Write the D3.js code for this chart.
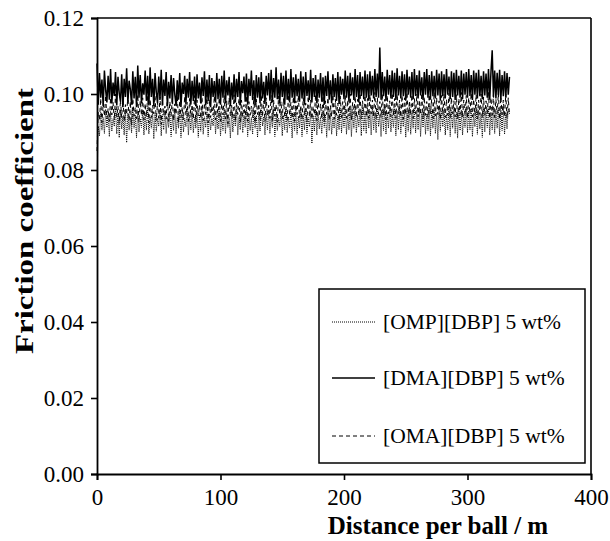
<!DOCTYPE html>
<html><head><meta charset="utf-8">
<script src="https://cdnjs.cloudflare.com/ajax/libs/d3/7.8.5/d3.min.js"></script>
<style>
html,body{margin:0;padding:0;background:#fff;}
svg{display:block;}
text{font-family:"Liberation Serif","Times New Roman",serif;fill:#000;}
.tick text{font-size:23px !important;font-family:"Liberation Serif",serif !important;}
</style></head>
<body>
<svg id="chart" width="610" height="541"></svg>
<script>
const xTicks = [0, 100, 200, 300, 400];
const yTicks = [0.00, 0.02, 0.04, 0.06, 0.08, 0.10, 0.12];
const seriesNames = ["[OMP][DBP] 5 wt%", "[DMA][DBP] 5 wt%", "[OMA][DBP] 5 wt%"];

// friction coefficient sampled every 1 m of distance per ball (0 ... 334 m)
const ompDbp = [
0.0775,0.0915,0.0890,0.0952,0.0905,0.0938,0.0896,0.0960,0.0912,0.0945,0.0888,0.0955,0.0902,0.0935,0.0915,0.0962,0.0895,0.0948,0.0885,0.0958,
0.0908,0.0942,0.0892,0.0960,0.0872,0.0950,0.0905,0.0938,0.0898,0.0965,0.0910,0.0945,0.0885,0.0955,0.0900,0.0935,0.0912,0.0958,0.0892,0.0948,
0.0905,0.0962,0.0895,0.0940,0.0910,0.0955,0.0882,0.0948,0.0902,0.0936,0.0915,0.0960,0.0890,0.0946,0.0906,0.0958,0.0896,0.0938,0.0912,0.0952,
0.0888,0.0945,0.0904,0.0962,0.0895,0.0940,0.0910,0.0956,0.0885,0.0948,0.0900,0.0936,0.0914,0.0960,0.0892,0.0944,0.0906,0.0955,0.0898,0.0938,
0.0910,0.0958,0.0886,0.0946,0.0902,0.0962,0.0894,0.0940,0.0912,0.0954,0.0888,0.0948,0.0905,0.0936,0.0916,0.0960,0.0895,0.0944,0.0908,0.0956,
0.0890,0.0942,0.0904,0.0962,0.0896,0.0950,0.0912,0.0938,0.0884,0.0956,0.0900,0.0946,0.0915,0.0960,0.0892,0.0940,0.0906,0.0954,0.0898,0.0944,
0.0912,0.0962,0.0888,0.0948,0.0904,0.0938,0.0894,0.0958,0.0910,0.0944,0.0886,0.0955,0.0902,0.0962,0.0916,0.0940,0.0892,0.0950,0.0906,0.0958,
0.0896,0.0942,0.0912,0.0960,0.0888,0.0948,0.0904,0.0936,0.0915,0.0956,0.0890,0.0944,0.0906,0.0962,0.0898,0.0940,0.0912,0.0954,0.0884,0.0948,
0.0904,0.0960,0.0894,0.0942,0.0910,0.0956,0.0888,0.0946,0.0906,0.0962,0.0896,0.0938,0.0914,0.0955,0.0870,0.0944,0.0902,0.0960,0.0892,0.0948,
0.0908,0.0940,0.0896,0.0958,0.0912,0.0946,0.0886,0.0962,0.0904,0.0950,0.0894,0.0938,0.0910,0.0956,0.0890,0.0944,0.0906,0.0962,0.0898,0.0952,
0.0912,0.0964,0.0894,0.0946,0.0906,0.0960,0.0888,0.0952,0.0910,0.0966,0.0898,0.0944,0.0914,0.0958,0.0890,0.0962,0.0904,0.0948,0.0896,0.0964,
0.0910,0.0956,0.0892,0.0966,0.0906,0.0950,0.0898,0.0962,0.0914,0.0946,0.0888,0.0960,0.0904,0.0968,0.0894,0.0952,0.0910,0.0964,0.0900,0.0948,
0.0912,0.0962,0.0890,0.0954,0.0906,0.0966,0.0896,0.0948,0.0914,0.0960,0.0886,0.0956,0.0902,0.0966,0.0894,0.0950,0.0910,0.0962,0.0898,0.0958,
0.0906,0.0966,0.0888,0.0952,0.0912,0.0960,0.0894,0.0948,0.0904,0.0968,0.0890,0.0956,0.0910,0.0962,0.0896,0.0950,0.0880,0.0964,0.0902,0.0954,
0.0914,0.0960,0.0892,0.0948,0.0906,0.0966,0.0888,0.0956,0.0910,0.0962,0.0896,0.0952,0.0884,0.0964,0.0904,0.0958,0.0892,0.0946,0.0912,0.0966,
0.0898,0.0956,0.0906,0.0962,0.0888,0.0950,0.0914,0.0966,0.0894,0.0958,0.0908,0.0948,0.0886,0.0964,0.0900,0.0956,0.0912,0.0962,0.0892,0.0952,
0.0906,0.0966,0.0896,0.0954,0.0910,0.0962,0.0890,0.0958,0.0904,0.0966,0.0894,0.0952,0.0908,0.0960,0.0948];

const dmaDbp = [
0.1080,0.0972,0.1055,0.0990,0.1038,0.0968,0.1062,0.1010,0.0978,0.1048,0.0985,0.1066,0.0975,0.1030,0.0995,0.1058,0.0970,0.1045,0.1002,0.0980,
0.1052,0.0966,0.1040,0.0992,0.1068,0.0978,0.1035,0.1012,0.0972,0.1060,0.0988,0.1045,0.0965,0.1075,0.0990,0.1050,0.0975,0.1028,0.0998,0.1062,
0.0982,0.1048,0.0970,0.1070,0.0992,0.1040,0.0968,0.1055,0.1005,0.0976,0.1046,0.0985,0.1064,0.0972,0.1038,0.0995,0.1058,0.0968,0.1032,0.0988,
0.1050,0.0975,0.1042,0.0998,0.0970,0.1036,0.0985,0.1055,0.0966,0.1030,0.1000,0.1048,0.0974,0.1040,0.0990,0.1058,0.0972,0.1035,0.0982,0.1046,
0.0968,0.1052,0.0988,0.1030,0.0975,0.1044,0.0995,0.1060,0.0970,0.1038,0.0982,0.1050,0.0965,0.1042,0.0992,0.1034,0.0978,0.1055,0.0986,0.1040,
0.0972,0.1048,0.0990,0.1062,0.0975,0.1036,0.0996,0.1045,0.0968,0.1030,0.0985,0.1052,0.0978,0.1040,0.0992,0.1058,0.0970,0.1034,0.1002,0.1046,
0.0980,0.1054,0.0972,0.1040,0.0995,0.1062,0.0984,0.1036,0.0970,0.1050,0.0990,0.1044,0.0976,0.1058,0.0988,0.1032,0.0974,0.1048,0.0996,0.1055,
0.0982,0.1064,0.0978,0.1042,0.0990,0.1070,0.0986,0.1038,0.0975,0.1056,0.0992,0.1048,0.0972,0.1062,0.0985,0.1040,0.0978,0.1066,0.0990,0.1044,
0.0976,0.1052,0.0994,0.1040,0.0980,0.1060,0.0988,0.1046,0.0972,0.1058,0.0995,0.1036,0.0984,0.1064,0.0978,0.1042,0.0992,0.1050,0.0975,0.1038,
0.0990,0.1055,0.0980,0.1044,0.0972,0.1048,0.0995,0.1060,0.0985,0.1036,0.0976,0.1052,0.0992,0.1042,0.0982,0.1058,0.0974,0.1046,0.0998,0.1040,
0.0986,0.1062,0.0990,0.1048,0.0980,0.1056,0.0996,0.1044,0.0984,0.1066,0.0992,0.1050,0.0978,0.1058,0.0995,0.1046,0.0986,0.1062,0.0990,0.1052,
0.0982,0.1060,0.0996,0.1048,0.0988,0.1066,0.0992,0.1054,0.0990,0.1122,0.0985,0.1058,0.0994,0.1046,0.0982,0.1064,0.0998,0.1050,0.0988,0.1062,
0.0992,0.1056,0.0984,0.1068,0.0996,0.1048,0.0988,0.1060,0.0994,0.1052,0.0982,0.1064,0.0998,0.1046,0.0990,0.1058,0.0986,0.1066,0.0995,0.1050,
0.0988,0.1062,0.0996,0.1044,0.0984,0.1058,0.0998,0.1066,0.0990,0.1050,0.0985,0.1060,0.0994,0.1048,0.0988,0.1064,0.0996,0.1054,0.0982,0.1060,
0.0994,0.1052,0.0988,0.1066,0.0998,0.1046,0.0986,0.1060,0.0992,0.1056,0.0984,0.1064,0.0996,0.1048,0.0990,0.1062,0.0986,0.1054,0.0998,0.1058,
0.0990,0.1066,0.0995,0.1050,0.0984,0.1062,0.0998,0.1056,0.0988,0.1064,0.0994,0.1048,0.0986,0.1060,0.0996,0.1054,0.0990,0.1066,0.0985,0.1058,
0.1115,0.0992,0.1062,0.0988,0.1056,0.0996,0.1064,0.0985,0.1050,0.0994,0.1060,0.0990,0.1055,0.0998,0.1045];

const omaDbp = [
0.0850,0.0952,0.0930,0.0988,0.0925,0.0975,0.0942,0.0996,0.0935,0.0962,0.0928,0.0990,0.0945,0.0978,0.0932,0.1000,0.0940,0.0968,0.0922,0.0985,
0.0938,0.0992,0.0928,0.0972,0.0946,0.0995,0.0930,0.0980,0.0918,0.0988,0.0942,0.0965,0.0935,0.0998,0.0926,0.0982,0.0944,0.0990,0.0932,0.0975,
0.0940,0.0994,0.0924,0.0986,0.0938,0.0970,0.0948,0.0996,0.0930,0.0978,0.0936,0.0992,0.0920,0.0984,0.0944,0.0968,0.0934,0.0995,0.0928,0.0980,
0.0942,0.0990,0.0930,0.0974,0.0946,0.0998,0.0925,0.0982,0.0938,0.0966,0.0932,0.0994,0.0944,0.0978,0.0928,0.0988,0.0940,0.0972,0.0934,0.0996,
0.0926,0.0984,0.0942,0.0970,0.0936,0.0992,0.0930,0.0976,0.0946,0.0998,0.0924,0.0986,0.0938,0.0968,0.0944,0.0994,0.0932,0.0980,0.0940,0.0990,
0.0928,0.0974,0.0945,0.0996,0.0934,0.0982,0.0922,0.0990,0.0942,0.0970,0.0936,0.0998,0.0930,0.0978,0.0946,0.0988,0.0926,0.0984,0.0940,0.0972,
0.0934,0.0995,0.0928,0.0980,0.0944,0.0968,0.0938,0.0992,0.0924,0.0986,0.0946,0.0974,0.0932,0.0998,0.0940,0.0982,0.0928,0.0990,0.0944,0.0970,
0.0936,0.0996,0.0930,0.0984,0.0942,0.0972,0.0926,0.0994,0.0946,0.0980,0.0934,0.0988,0.0940,0.0966,0.0930,0.0998,0.0944,0.0978,0.0936,0.0992,
0.0928,0.0982,0.0946,0.0996,0.0938,0.0970,0.0932,0.0990,0.0944,0.0976,0.0926,0.0994,0.0940,0.0984,0.0934,0.0968,0.0946,0.0998,0.0930,0.0986,
0.0942,0.0974,0.0936,0.0995,0.0928,0.0982,0.0946,0.0990,0.0932,0.0970,0.0940,0.0998,0.0934,0.0986,0.0944,0.0976,0.0930,0.0994,0.0938,0.0980,
0.0946,0.0996,0.0936,0.0984,0.0942,0.1000,0.0932,0.0978,0.0948,0.0994,0.0938,0.0986,0.0944,0.1002,0.0934,0.0982,0.0946,0.0996,0.0940,0.0988,
0.0936,0.0998,0.0948,0.0984,0.0940,0.1004,0.0934,0.0990,0.0946,0.0980,0.0938,0.1000,0.0944,0.0986,0.0932,0.0996,0.0948,0.0982,0.0940,0.1002,
0.0944,0.0988,0.0936,0.1000,0.0948,0.0984,0.0940,0.0996,0.0934,0.0990,0.0946,0.1004,0.0938,0.0982,0.0944,0.0998,0.0936,0.0988,0.0948,0.1000,
0.0940,0.0984,0.0946,0.1002,0.0934,0.0992,0.0944,0.0980,0.0938,0.0998,0.0948,0.0986,0.0936,0.1004,0.0942,0.0990,0.0946,0.0982,0.0934,0.0996,
0.0946,0.1000,0.0938,0.0986,0.0944,0.1002,0.0936,0.0990,0.0948,0.0982,0.0940,0.0998,0.0934,0.0988,0.0946,0.1004,0.0938,0.0984,0.0944,0.0996,
0.0936,0.0990,0.0948,0.1002,0.0940,0.0986,0.0944,0.0998,0.0934,0.0984,0.0946,0.1000,0.0938,0.0992,0.0944,0.0982,0.0948,0.1004,0.0936,0.0990,
0.0944,0.0998,0.0938,0.0986,0.0948,0.1002,0.0934,0.0992,0.0946,0.0984,0.0940,0.1000,0.0936,0.0990,0.0945];

const distance = d3.range(0, ompDbp.length); // metres, 1 m sampling grid

const svg = d3.select("#chart");
const L = 97, R = 591, T = 18, B = 474;
const x = d3.scaleLinear().domain([0, 400]).range([L, R]);
const y = d3.scaleLinear().domain([0, 0.12]).range([B, T]);

const styles = [
  {data: ompDbp, dash: "1,1", width: 1},
  {data: dmaDbp, dash: null, width: 1.5},
  {data: omaDbp, dash: "4,3", width: 1}
];

const line = d3.line().x((d, i) => x(distance[i])).y(d => y(d));
[0, 2, 1].forEach(k => {
  const s = styles[k];
  svg.append("path").datum(s.data)
    .attr("d", line)
    .attr("fill", "none").attr("stroke", "#000")
    .attr("stroke-width", s.width)
    .attr("stroke-dasharray", s.dash);
});

// frame
svg.append("line").attr("x1", L).attr("x2", R).attr("y1", T).attr("y2", T).attr("stroke", "#000").attr("stroke-width", 1.6);
svg.append("line").attr("x1", R).attr("x2", R).attr("y1", T).attr("y2", B).attr("stroke", "#000").attr("stroke-width", 1.6);

const xAxis = svg.append("g").attr("transform", `translate(0,${B})`)
  .call(d3.axisBottom(x).tickValues(xTicks).tickFormat(d3.format("d")).tickSize(6).tickPadding(9));
const yAxis = svg.append("g").attr("transform", `translate(${L},0)`)
  .call(d3.axisLeft(y).tickValues(yTicks).tickFormat(d3.format(".2f")).tickSize(6).tickPadding(7));
[xAxis, yAxis].forEach(g => {
  g.attr("font-size", 23).attr("font-family", '"Liberation Serif", serif');
  g.select(".domain").attr("stroke", "#000").attr("stroke-width", 1.8);
  g.selectAll(".tick line").attr("stroke", "#000").attr("stroke-width", 1.6);
  g.selectAll(".tick text").attr("fill", "#000").attr("font-size", 23)
    .style("font-family", '"Liberation Serif", serif').style("font-size", "23px");
});

svg.append("text").attr("x", 438).attr("y", 534).attr("text-anchor", "middle")
  .style("font-size", "25px").style("font-weight", "bold").text("Distance per ball / m");
svg.append("text").attr("transform", "translate(33,221) rotate(-90)").attr("text-anchor", "middle")
  .attr("textLength", 266).attr("lengthAdjust", "spacingAndGlyphs")
  .style("font-size", "25px").style("font-weight", "bold").text("Friction coefficient");

// legend
const lg = svg.append("g");
lg.append("rect").attr("x", 319).attr("y", 289).attr("width", 266).attr("height", 174)
  .attr("fill", "#fff").attr("stroke", "#000").attr("stroke-width", 1.5);
const legY = [322, 378, 436];
seriesNames.forEach((name, k) => {
  const s = styles[k];
  lg.append("line").attr("x1", 332).attr("x2", 375).attr("y1", legY[k]).attr("y2", legY[k])
    .attr("stroke", "#000").attr("stroke-width", s.width).attr("stroke-dasharray", s.dash);
  lg.append("text").attr("x", 383).attr("y", legY[k] + 7).style("font-size", "21.5px").text(name);
});
</script>
</body></html>
